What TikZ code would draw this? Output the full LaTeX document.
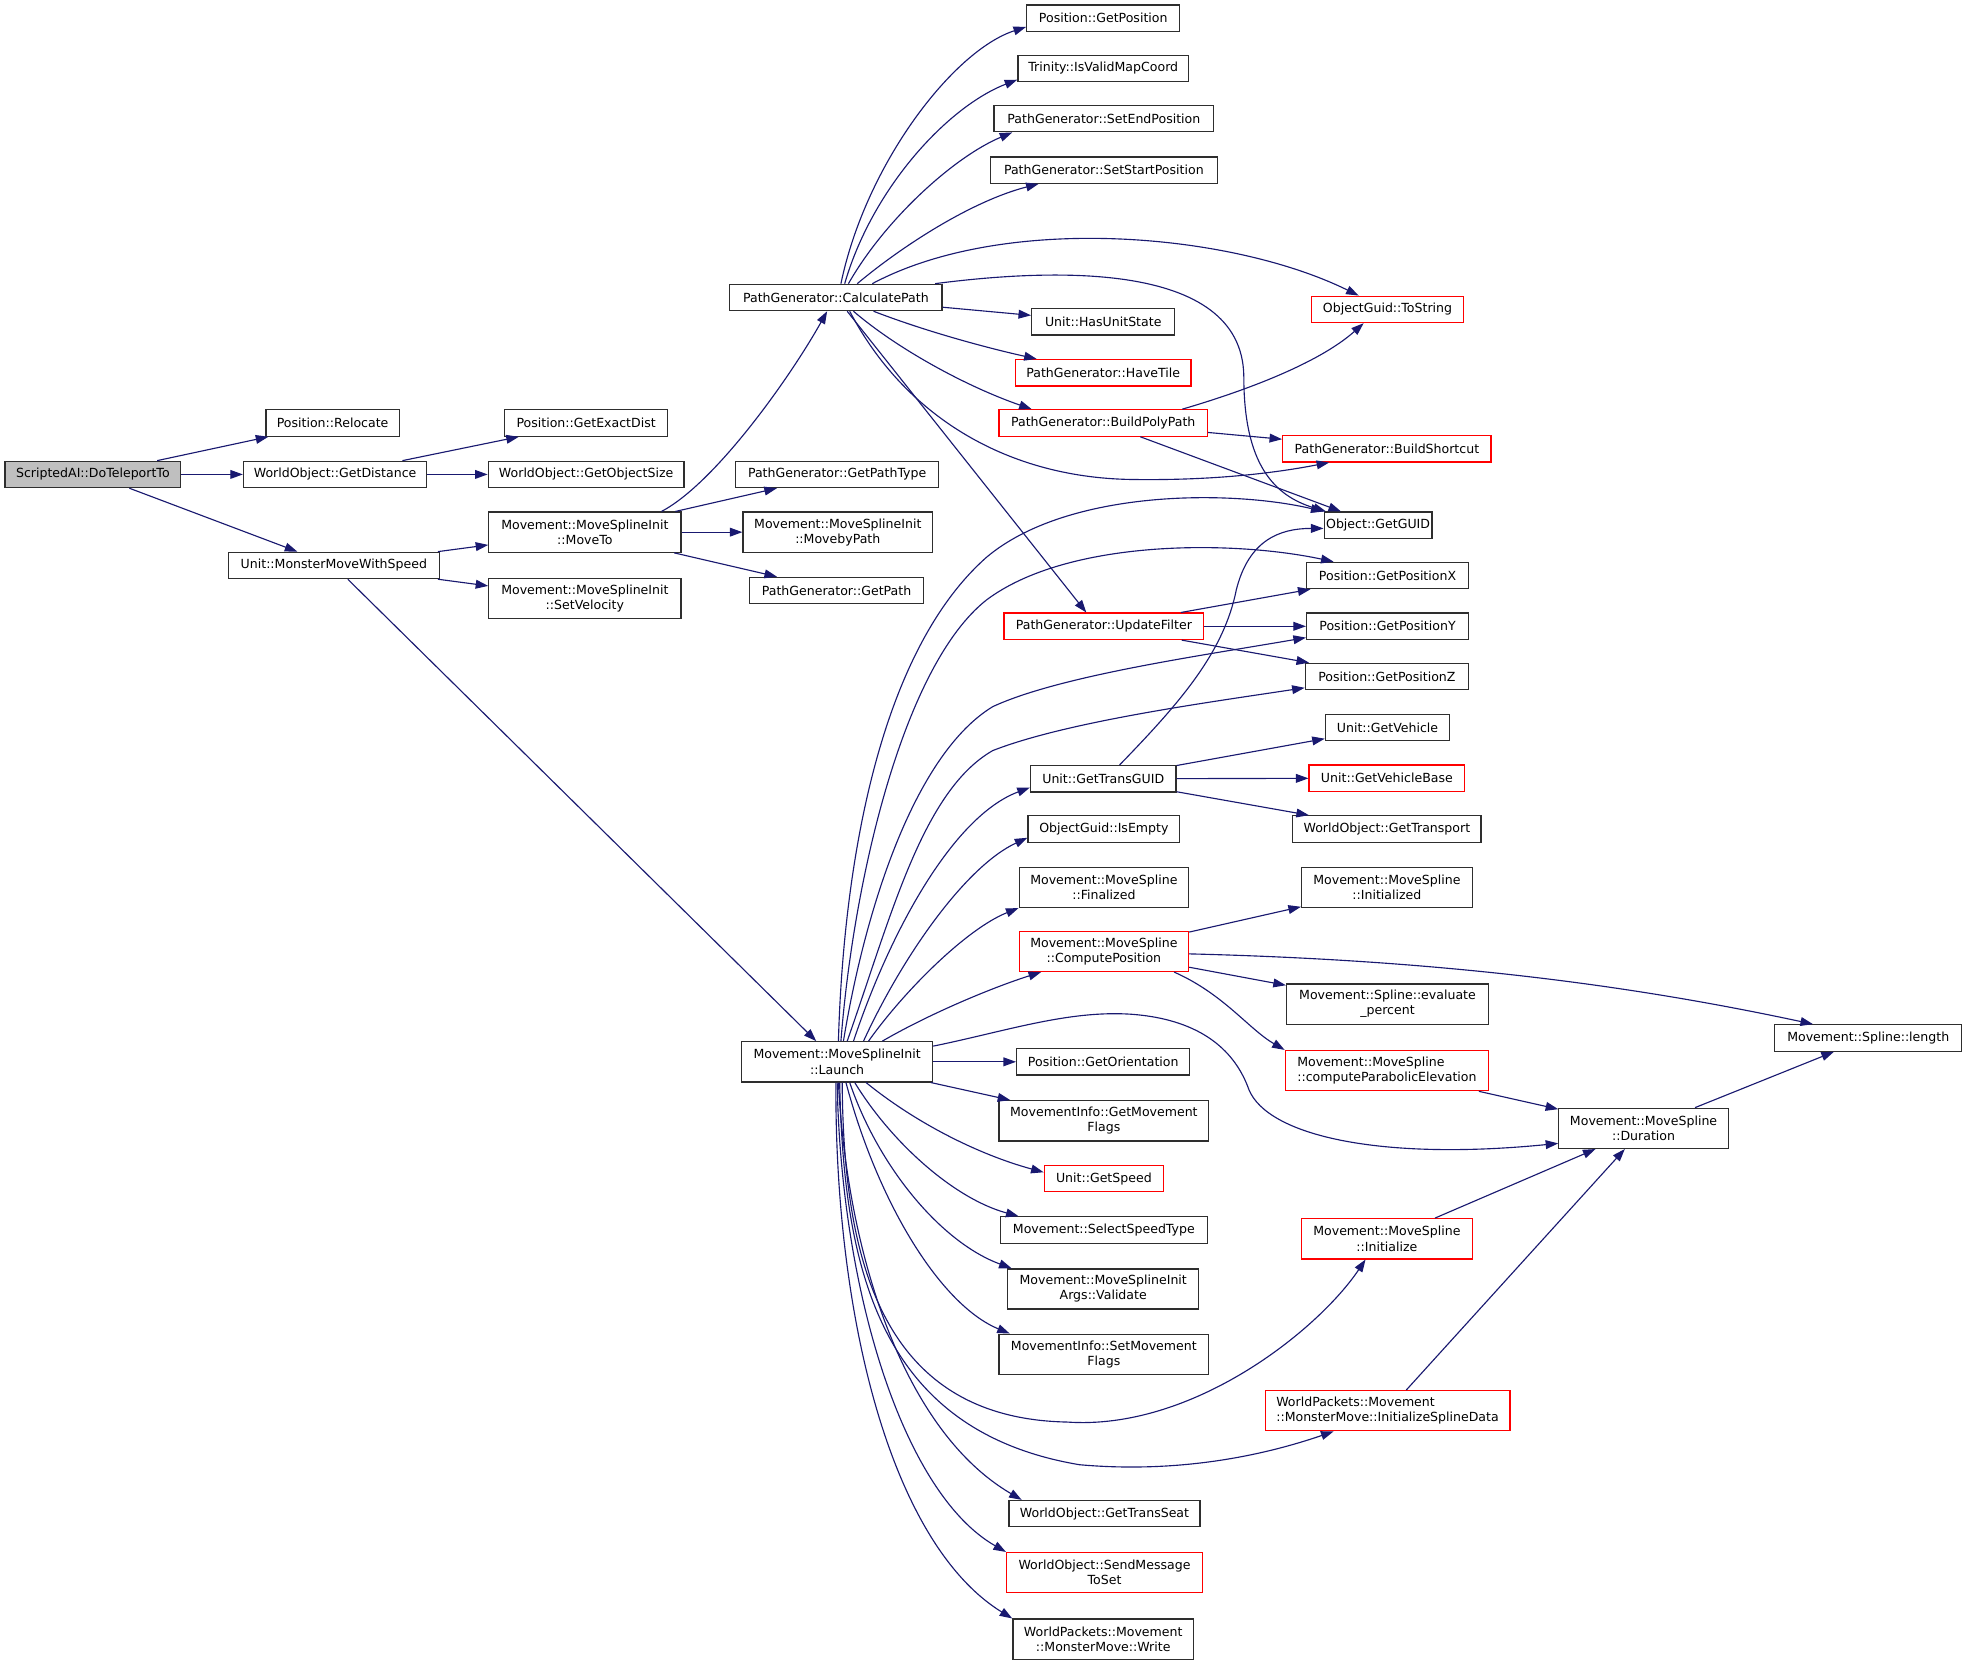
\documentclass[tikz,border=0pt]{standalone}
\usepackage{fontspec}
\setmainfont{DejaVu Sans}
\usetikzlibrary{arrows.meta}
\definecolor{edgec}{HTML}{191970}
\definecolor{boxc}{HTML}{2E2E2E}
\definecolor{redc}{HTML}{FF0000}
\definecolor{grayfill}{HTML}{BFBFBF}
\tikzset{
  nb/.style={draw=boxc, line width=1pt, inner sep=0pt, minimum height=21pt, minimum width=#1, font=\fontsize{10}{12}\selectfont, align=center},
  nb2/.style={nb=#1, minimum height=32pt},
  rb/.style={nb=#1, draw=redc},
  rb2/.style={nb2=#1, draw=redc},
  edg/.style={draw=edgec, line width=0.9pt, -{Triangle[length=10pt,width=7pt]}},
}
\begin{document}
\begin{tikzpicture}[x=1pt,y=-1pt]
\fill[white] (0,0) rectangle (1568,1326.6);
\useasboundingbox (0,0) rectangle (1568,1326.6);

% nodes
\node[nb=140, fill=grayfill] (sai) at (74,378) {ScriptedAI::DoTeleportTo};
\node[nb=106] (reloc) at (265,337) {Position::Relocate};
\node[nb=146] (dist) at (267,378) {WorldObject::GetDistance};
\node[nb=168] (mmws) at (266,450.5) {Unit::MonsterMoveWithSpeed};
\node[nb=130] (exact) at (467,337) {Position::GetExactDist};
\node[nb=156] (osize) at (467,378) {WorldObject::GetObjectSize};
\node[nb2=153] (moveto) at (466,424) {Movement::MoveSplineInit\\::MoveTo};
\node[nb2=153] (setvel) at (466,477) {Movement::MoveSplineInit\\::SetVelocity};
\node[nb=169] (calc) at (666,237) {PathGenerator::CalculatePath};
\node[nb=162] (ptype) at (667,378) {PathGenerator::GetPathType};
\node[nb2=151] (mbp) at (667.5,424) {Movement::MoveSplineInit\\::MovebyPath};
\node[nb=139] (getpath) at (666.5,470.5) {PathGenerator::GetPath};
\node[nb2=152] (launch) at (667,846) {Movement::MoveSplineInit\\::Launch};

\node[nb=122] (getpos) at (879,14.5) {Position::GetPosition};
\node[nb=136] (valid) at (879,54.5) {Trinity::IsValidMapCoord};
\node[nb=175] (setend) at (879.5,94.5) {PathGenerator::SetEndPosition};
\node[nb=181] (setstart) at (879.5,135.5) {PathGenerator::SetStartPosition};
\node[nb=114] (hasus) at (879,256.5) {Unit::HasUnitState};
\node[rb=140] (havetile) at (879,297) {PathGenerator::HaveTile};
\node[rb=166] (bpp) at (879,337) {PathGenerator::BuildPolyPath};
\node[rb=159] (upf) at (879.5,499) {PathGenerator::UpdateFilter};
\node[nb=116] (tguid) at (879,620.5) {Unit::GetTransGUID};
\node[nb=121] (isempty) at (879.5,660.5) {ObjectGuid::IsEmpty};
\node[nb2=135] (final) at (879.5,707) {Movement::MoveSpline\\::Finalized};
\node[rb2=135] (cpos) at (879.5,758) {Movement::MoveSpline\\::ComputePosition};
\node[nb=138] (orient) at (879,846) {Position::GetOrientation};
\node[nb2=167] (gmf) at (879.5,893) {MovementInfo::GetMovement\\Flags};
\node[rb=95] (speed) at (879.5,939) {Unit::GetSpeed};
\node[nb=165] (sst) at (879.5,980) {Movement::SelectSpeedType};
\node[nb2=152] (valid2) at (879,1027) {Movement::MoveSplineInit\\Args::Validate};
\node[nb2=167] (smf) at (879.5,1079) {MovementInfo::SetMovement\\Flags};
\node[nb=152] (tseat) at (880,1206) {WorldObject::GetTransSeat};
\node[rb2=156] (smts) at (880,1253) {WorldObject::SendMessage\\ToSet};
\node[nb2=144] (write) at (879,1306) {WorldPackets::Movement\\::MonsterMove::Write};

\node[rb=121] (tostr) at (1105.5,246.5) {ObjectGuid::ToString};
\node[rb=166] (bsc) at (1105,357.5) {PathGenerator::BuildShortcut};
\node[nb=86] (guid) at (1098,418.5) {Object::GetGUID};
\node[nb=129] (px) at (1105.5,458.5) {Position::GetPositionX};
\node[nb=129] (py) at (1105.5,499) {Position::GetPositionY};
\node[nb=130] (pz) at (1105,539) {Position::GetPositionZ};
\node[nb=99] (veh) at (1105.5,579.5) {Unit::GetVehicle};
\node[rb=124] (vehb) at (1105,620) {Unit::GetVehicleBase};
\node[nb=150] (transp) at (1105,660.5) {WorldObject::GetTransport};
\node[nb2=136] (inited) at (1105,707) {Movement::MoveSpline\\::Initialized};
\node[nb2=161] (evalp) at (1105.5,800) {Movement::Spline::evaluate\\\_percent};
\node[rb2=162, align=left] (cpe) at (1105,853) {Movement::MoveSpline\\::computeParabolicElevation};
\node[rb2=136] (init) at (1105,987) {Movement::MoveSpline\\::Initialize};
\node[rb2=195, align=left] (isd) at (1105.5,1124) {WorldPackets::Movement\\::MonsterMove::InitializeSplineData};
\node[nb2=135] (dur) at (1309.5,899) {Movement::MoveSpline\\::Duration};
\node[nb=149] (len) at (1488.5,827) {Movement::Spline::length};

% straight edges
\draw[edg] (sai) -- (reloc);
\draw[edg] (sai) -- (dist);
\draw[edg] (sai) -- (mmws);
\draw[edg] (dist) -- (exact);
\draw[edg] (dist) -- (osize);
\draw[edg] (mmws) -- (moveto);
\draw[edg] (mmws) -- (setvel);
\draw[edg] (mmws) -- (launch);
\draw[edg] (moveto) -- (ptype);
\draw[edg] (moveto) -- (mbp);
\draw[edg] (moveto) -- (getpath);
\draw[edg] (calc) -- (hasus);
\draw[edg] (bpp) -- (bsc);
\draw[edg] (bpp) -- (guid);
\draw[edg] (upf) -- (px);
\draw[edg] (upf) -- (py);
\draw[edg] (upf) -- (pz);
\draw[edg] (launch) -- (orient);
\draw[edg] (launch) -- (gmf);
\draw[edg] (tguid) -- (veh);
\draw[edg] (tguid) -- (vehb);
\draw[edg] (tguid) -- (transp);
\draw[edg] (cpos) -- (inited);
\draw[edg] (cpos) -- (evalp);
\draw[edg] (cpe) -- (dur);
\draw[edg] (dur) -- (len);
\draw[edg] (init) -- (dur);
\draw[edg] (isd) -- (dur);

% MoveTo -> CalculatePath
\draw[edg] ([xshift=61pt]moveto.north) .. controls (570,385) and (630,300) .. ([xshift=-7pt]calc.south);

% CalculatePath curves
\draw[edg] ([xshift=4pt]calc.north) .. controls (690,130) and (760,40) .. ([yshift=-7pt]getpos.west);
\draw[edg] ([xshift=7pt]calc.north) .. controls (695,150) and (755,85) .. ([yshift=-9pt]valid.west);
\draw[edg] ([xshift=10pt]calc.north) .. controls (705,175) and (760,125) .. ([xshift=-73pt]setend.south);
\draw[edg] ([xshift=17pt]calc.north) .. controls (720,195) and (775,160) .. ([xshift=-52pt]setstart.south);
\draw[edg] ([xshift=29pt]calc.north) .. controls (800,170) and (980,185) .. ([xshift=-23pt]tostr.north);
\draw[edg] ([xshift=-6pt]calc.north east) .. controls (830,215) and (990,205) .. (991,300) .. controls (991,370) and (1015,395) .. ([xshift=2pt]guid.north west);
\draw[edg] ([xshift=30pt]calc.south) .. controls (740,265) and (790,278) .. ([xshift=-53pt]havetile.north);
\draw[edg] ([xshift=14pt]calc.south) .. controls (715,278) and (770,308) .. ([xshift=-57pt]bpp.north);
\draw[edg] ([xshift=9pt]calc.south) -- ([xshift=-14pt]upf.north);
\draw[edg] ([xshift=11pt]calc.south) .. controls (720,330) and (800,380) .. (900,382) .. controls (960,383) and (1010,378) .. ([xshift=-46pt]bsc.south);

% BuildPolyPath -> ToString
\draw[edg] ([xshift=63pt]bpp.north) .. controls (990,312) and (1050,290) .. ([xshift=-19pt]tostr.south);

% Launch upward curves
\draw[edg] ([xshift=1pt]launch.north) .. controls (672,690) and (700,520) .. (786,444) .. controls (850,390) and (980,390) .. (guid.north west);
\draw[edg] ([xshift=3pt]launch.north) .. controls (680,700) and (720,530) .. (786,478) .. controls (850,430) and (980,430) .. ([xshift=-43pt]px.north);
\draw[edg] ([xshift=5pt]launch.north) .. controls (690,720) and (730,600) .. (791,563) .. controls (845,538) and (960,522) .. ([yshift=-9pt]py.west);
\draw[edg] ([xshift=8pt]launch.north) .. controls (710,730) and (735,630) .. (791,598) .. controls (850,575) and (960,560) .. ([yshift=-9pt]pz.west);
\draw[edg] ([xshift=13pt]launch.north) .. controls (710,740) and (760,650) .. ([yshift=-7pt]tguid.west);
\draw[edg] ([xshift=21pt]launch.north) .. controls (720,760) and (770,690) .. ([yshift=-7pt]isempty.west);
\draw[edg] ([xshift=25pt]launch.north) .. controls (720,790) and (770,740) .. (final.south west);
\draw[edg] ([xshift=36pt]launch.north) .. controls (740,808) and (790,787) .. ([xshift=-50pt]cpos.south);
\draw[edg] ([yshift=-4pt]launch.north east) .. controls (800,822) and (850,805) .. (900,808) .. controls (960,812) and (985,840) .. (995,868) .. controls (1010,905) and (1100,925) .. ([yshift=-12pt]dur.west);

% Launch downward curves
\draw[edg] ([xshift=23pt]launch.south) .. controls (730,895) and (780,920) .. ([yshift=5pt]speed.west);
\draw[edg] ([xshift=14pt]launch.south) .. controls (710,910) and (760,955) .. ([xshift=-68pt]sst.north);
\draw[edg] ([xshift=10pt]launch.south) .. controls (700,930) and (750,990) .. ([xshift=-73pt]valid2.north);
\draw[edg] ([xshift=7pt]launch.south) .. controls (700,960) and (750,1040) .. ([xshift=-75pt]smf.north);
\draw[edg] ([xshift=4pt]launch.south) .. controls (672,1000) and (700,1130) .. (850,1133) .. controls (950,1140) and (1050,1060) .. ([xshift=-17pt]init.south);
\draw[edg] ([xshift=2pt]launch.south) .. controls (672,1010) and (700,1140) .. (860,1167) .. controls (950,1175) and (1020,1155) .. ([xshift=-43pt]isd.south);
\draw[edg] ([xshift=1pt]launch.south) .. controls (675,1000) and (720,1140) .. ([xshift=-66pt]tseat.north);
\draw[edg] (launch.south) .. controls (670,1030) and (720,1190) .. (smts.north west);
\draw[edg] ([xshift=-1pt]launch.south) .. controls (665,1050) and (710,1230) .. (write.north west);

% GetTransGUID -> GetGUID
\draw[edg] ([xshift=13pt]tguid.north) .. controls (940,560) and (975,520) .. (985,470) .. controls (995,430) and (1020,421) .. ([yshift=-2.5pt]guid.west);

% ComputePosition curves
\draw[edg] ([yshift=-2pt]cpos.east) .. controls (1150,765) and (1300,785) .. ([xshift=-44pt]len.north);
\draw[edg] ([xshift=56pt]cpos.south) .. controls (975,792) and (995,820) .. (cpe.north west);
\end{tikzpicture}
\end{document}
